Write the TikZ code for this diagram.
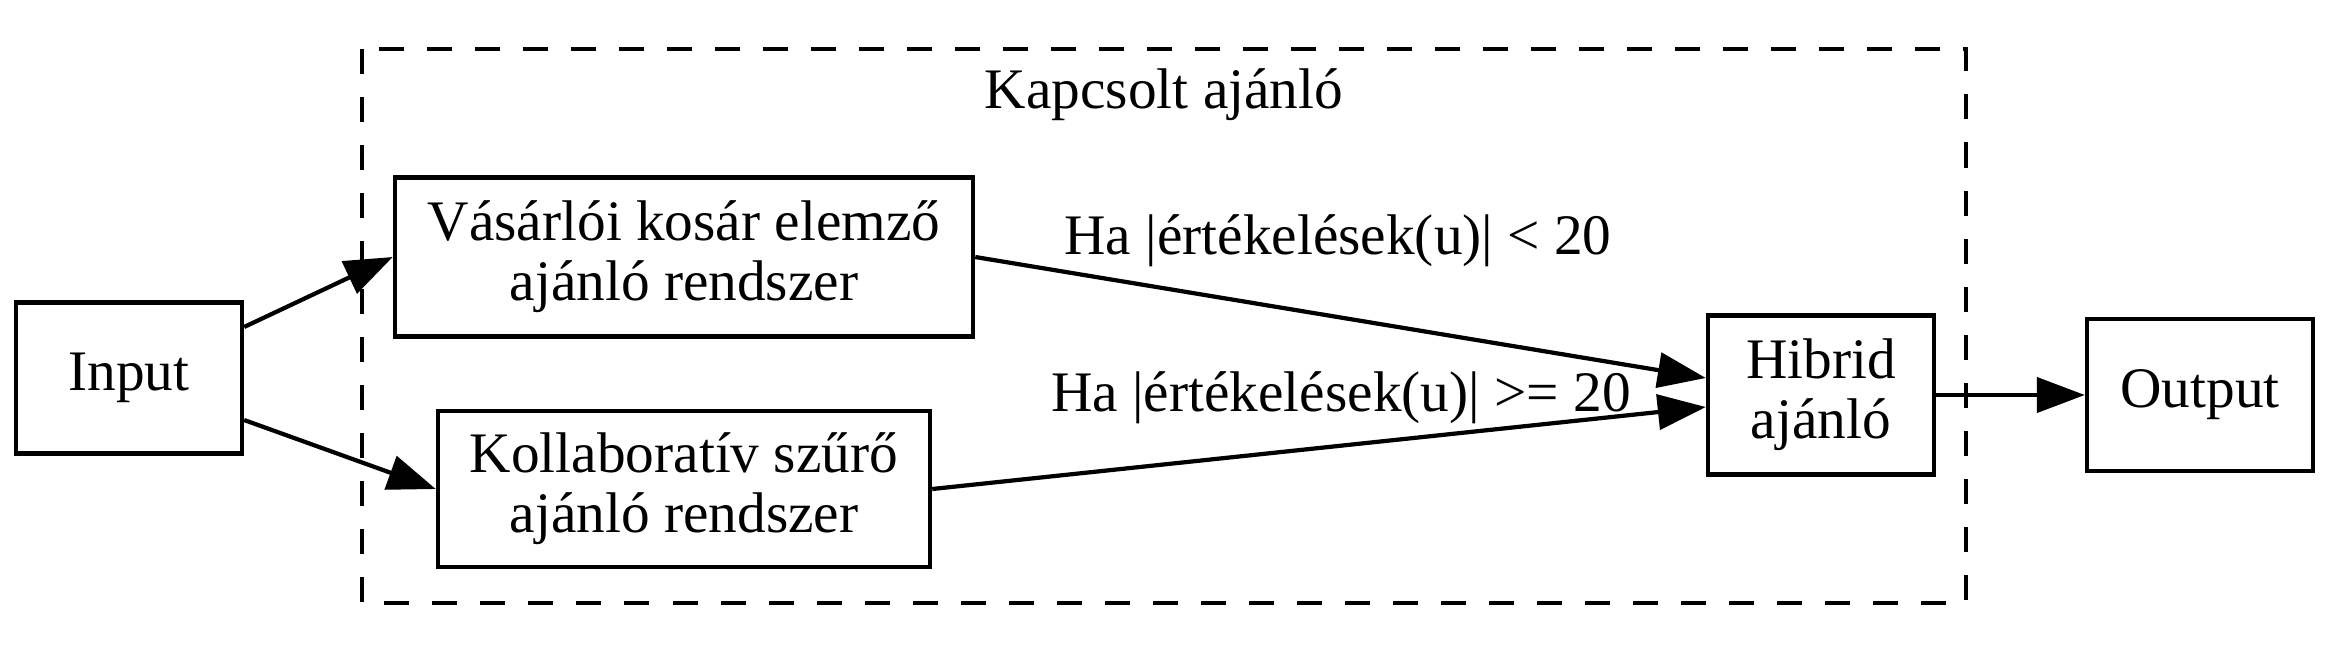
\documentclass[tikz,border=0pt]{standalone}
\usepackage{fontspec}
\setmainfont{Liberation Serif}
\usetikzlibrary{arrows.meta,positioning}
\tikzset{
  box/.style   = {draw, line width=1.2pt, align=center, inner sep=2pt,
                  font=\fontsize{16.3}{17}\selectfont},
  edge/.style  = {line width=1.2pt, -{Triangle[length=4.8mm,width=3.5mm]}},
  lbl/.style   = {font=\fontsize{16.3}{17}\selectfont, inner sep=0pt},
  cluster/.style = {line width=1.2pt, dash pattern=on 2.5mm off 2.3mm},
}
\begin{document}
\begin{tikzpicture}[x=0.01cm,y=-0.01cm]
  \useasboundingbox (0,0) rectangle (2329,654);
  % cluster
  \draw[cluster] (362,49) rectangle (1966,603);
  \node[lbl] (clu) at (1164,95) {Kapcsolt ajánló};
  % nodes
  \node[box, minimum width=2.26cm, minimum height=1.51cm] (inp) at (129,378) {Input};
  \node[box, minimum width=5.78cm, minimum height=1.59cm] (vas) at (684,257)
    {Vásárlói kosár elemző\\ajánló rendszer};
  \node[box, minimum width=4.92cm, minimum height=1.56cm] (kol) at (684,489)
    {Kollaboratív szűrő\\ajánló rendszer};
  \node[box, minimum width=2.26cm, minimum height=1.59cm] (hib) at (1821,395)
    {Hibrid\\ajánló};
  \node[box, minimum width=2.26cm, minimum height=1.52cm] (out) at (2200,395) {Output};
  % edges
  \draw[edge] ([yshift=5.1mm]inp.east) -- (vas.west);
  \draw[edge] ([yshift=-4.2mm]inp.east) -- (kol.west);
  \draw[edge] (vas.east) -- ([yshift=1.7mm]hib.west);
  \draw[edge] (kol.east) -- ([yshift=-1.2mm]hib.west);
  \draw[edge] (hib.east) -- (out.west);
  % edge labels
  \node[lbl] (lt) at (1338,241) {Ha |értékelések(u)| < 20};
  \node[lbl] (ge) at (1341,398) {Ha |értékelések(u)| >= 20};
\end{tikzpicture}
\end{document}
